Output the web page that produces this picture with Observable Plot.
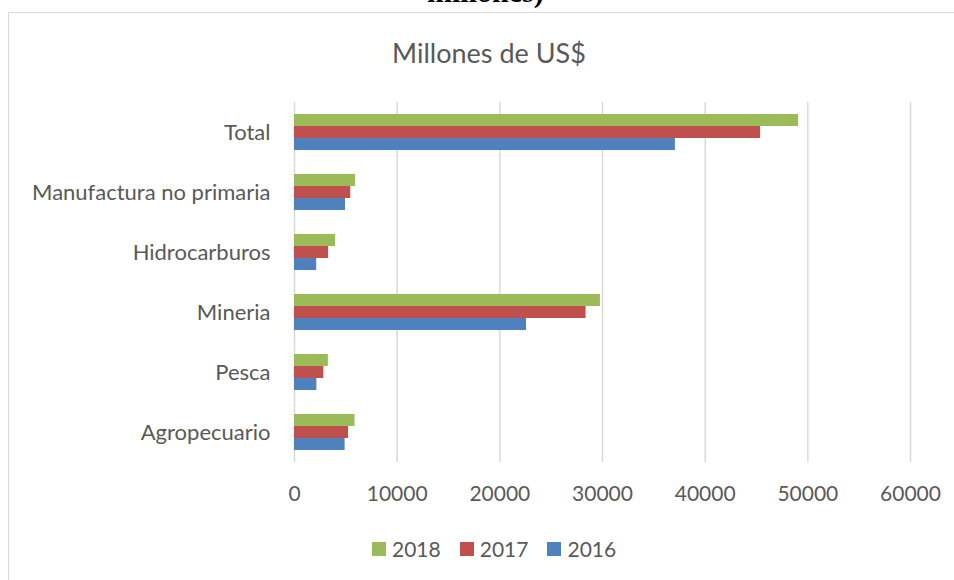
<!DOCTYPE html>
<html>
<head>
<meta charset="utf-8">
<script src="https://cdn.jsdelivr.net/npm/d3@7"></script>
<script src="https://cdn.jsdelivr.net/npm/@observablehq/plot@0.6"></script>
<style>
  html, body { margin: 0; padding: 0; background: #fff; overflow: hidden; }
  #page { position: relative; width: 954px; height: 580px; overflow: hidden; }
  #cut { position: absolute; left: 427px; top: -25px; font-family: "Liberation Serif", serif; font-weight: bold; font-size: 30px; line-height: 34px; color: #000; white-space: nowrap; }
  #frame { position: absolute; left: 8px; top: 12px; width: 1000px; height: 1000px; border: 1px solid #d9d9d9; box-sizing: border-box; }
  #title { position: absolute; left: 0; width: 978px; top: 37px; text-align: center; font-family: Lato, sans-serif; font-size: 27px; line-height: 32px; color: #595959; }
  #chart { position: absolute; left: 0; top: 90px; }
  #legend { position: absolute; left: 372px; top: 536px; font-family: Lato, sans-serif; font-size: 21px; line-height: 26px; color: #595959; display: flex; align-items: center; white-space: nowrap; }
  .sw { display: inline-block; width: 14px; height: 14px; margin-right: 6px; }
  .item { display: flex; align-items: center; margin-right: 19px; }
</style>
</head>
<body>
<div id="page">
  <div id="cut">millones)</div>
  <div id="frame"></div>
  <div id="title">Millones de US$</div>
  <div id="chart"></div>
  <div id="legend"></div>
</div>
<script>
const categories = ["Total", "Manufactura no primaria", "Hidrocarburos", "Mineria", "Pesca", "Agropecuario"];
const years = ["2018", "2017", "2016"];
const values2018 = [49100, 5950, 4000, 29800, 3300, 5900];
const values2017 = [45400, 5480, 3320, 28400, 2860, 5260];
const values2016 = [37100, 4970, 2160, 22600, 2180, 4930];
const colors = ["#9BBB59", "#C0504D", "#4F81BD"];
const xTicks = [0, 10000, 20000, 30000, 40000, 50000, 60000];

const series = {"2018": values2018, "2017": values2017, "2016": values2016};
const rows = [];
categories.forEach((c, i) => {
  years.forEach(y => rows.push({category: c, year: y, value: series[y][i]}));
});

const chart = Plot.plot({
  width: 954,
  height: 440,
  marginTop: 10,
  marginBottom: 66,
  marginLeft: 294,
  marginRight: 44,
  style: {fontFamily: "Lato, sans-serif", fontSize: "21px", color: "#595959", background: "transparent"},
  x: {domain: [0, 60000], ticks: xTicks, tickFormat: d => String(d), label: null, tickSize: 0, tickPadding: 24},
  y: {domain: years, paddingInner: 0, paddingOuter: 0.94, axis: null},
  fy: {domain: categories, padding: 0, label: null, axis: null},
  color: {domain: years, range: colors},
  marks: [
    Plot.gridX(xTicks, {stroke: "#d9d9d9", strokeOpacity: 1, strokeWidth: 1.5}),
    Plot.barX(rows, {x: "value", y: "year", fy: "category", fill: "year"}),
    Plot.axisFy({anchor: "left", label: null, tickSize: 0, tickPadding: 24, fontSize: 22})
  ]
});
document.getElementById("chart").appendChild(chart);

const legend = document.getElementById("legend");
years.forEach((y, i) => {
  const item = document.createElement("span");
  item.className = "item";
  const sw = document.createElement("span");
  sw.className = "sw";
  sw.style.background = colors[i];
  item.appendChild(sw);
  item.appendChild(document.createTextNode(y));
  legend.appendChild(item);
});
</script>
</body>
</html>
